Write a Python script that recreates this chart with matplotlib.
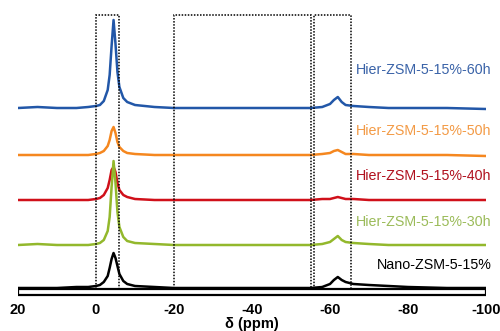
import numpy as np
import matplotlib.pyplot as plt
from matplotlib.patches import Rectangle

plt.rcParams['font.family'] = ['Liberation Sans', 'DejaVu Sans']

# chemical shift grid (ppm) shared by all spectra
ppm = [20, 15, 10, 5, 2, 0, -1, -2, -3, -3.5, -4, -4.5, -5, -5.5, -6, -7, -8, -10,
       -15, -20, -30, -40, -50, -55, -58, -60, -61, -62, -63, -64, -66, -70, -75, -80, -90, -100]

# intensities above each baseline (arbitrary units)
blue = [0, 1, 0, 0, 1, 2, 3, 7, 18, 33, 62, 88, 64, 36, 21, 10, 6, 3,
        1, 0, 0, 0, 0, 0, 1, 4, 8, 11, 6, 3, 2, 1, 0, 0, 0, -1]
orange = [0, 0, 0, 0, 0, 1, 2, 4, 9, 15, 24, 28, 22, 13, 8, 4, 2, 1,
          0, 0, 0, 0, 0, 0, 1, 2, 4, 5, 3, 1, 1, 0, 0, 0, 0, -1]
red = [0, 0, 0, 0, 0, 1, 2, 5, 12, 20, 30, 33, 28, 17, 10, 5, 3, 1,
       0, 0, 0, 0, 0, 0, 1, 1, 2, 3, 2, 1, 1, 0, 0, 0, 0, 0]
green = [0, 1, 0, 0, 0, 1, 2, 5, 14, 28, 58, 84, 62, 33, 18, 8, 4, 2,
         1, 0, 0, 0, 0, 0, 1, 3, 6, 9, 5, 3, 2, 1, 0, 0, 0, 0]
black = [0, 0, 0, 1, 1, 2, 3, 6, 12, 20, 29, 35, 30, 22, 14, 7, 4, 2,
         1, 0, 0, 0, 0, 0, 1, 4, 8, 11, 8, 6, 4, 3, 2, 1, 0, 0]

offsets = [184, 137, 92, 47, 4]
series = [blue, orange, red, green, black]
line_colors = ['#2257a8', '#f5871f', '#d0101a', '#93b82c', '#000000']
label_colors = ['#3a63a8', '#f39a45', '#b0101e', '#9bbb59', '#000000']
labels = ['Hier-ZSM-5-15%-60h', 'Hier-ZSM-5-15%-50h', 'Hier-ZSM-5-15%-40h',
          'Hier-ZSM-5-15%-30h', 'Nano-ZSM-5-15%']
label_y = [222, 161, 116, 70, 27]

# dotted boxes (ppm ranges)
boxes = [(0, -6), (-20, -55), (-56, -65.5)]

fig = plt.figure(figsize=(5, 3.31), dpi=100)
ax = fig.add_axes([0.036, 31 / 331, 0.936, 300 / 331])

for s, off, c in zip(series, offsets, line_colors):
    ax.plot(ppm, np.array(s) + off, color=c, lw=1.8)

for lab, y, c in zip(labels, label_y, label_colors):
    ax.text(-101.5, y, lab, color=c, fontsize=10.3, ha='right', va='center')

for x0, x1 in boxes:
    ax.add_patch(Rectangle((x1, 0), x0 - x1, 277, fill=False, ec='black',
                           ls=(0, (1, 1)), lw=1.1, zorder=5))

# hollow bar as x axis
ax.add_patch(Rectangle((-100, -3), 120, 6, fc='white', ec='black', lw=1.6, zorder=6))

ax.set_xlim(20, -100)
ax.set_ylim(-8, 292)
ax.set_xticks([20, 0, -20, -40, -60, -80, -100])
ax.set_xticklabels(['20', '0', '-20', '-40', '-60', '-80', '-100'], fontweight='bold', fontsize=10.5)
ax.tick_params(axis='x', length=0, pad=2)
ax.set_yticks([])
for sp in ax.spines.values():
    sp.set_visible(False)
ax.set_xlabel('δ (ppm)', fontweight='bold', fontsize=10.5, labelpad=0)

fig.savefig('out.png', dpi=100)
